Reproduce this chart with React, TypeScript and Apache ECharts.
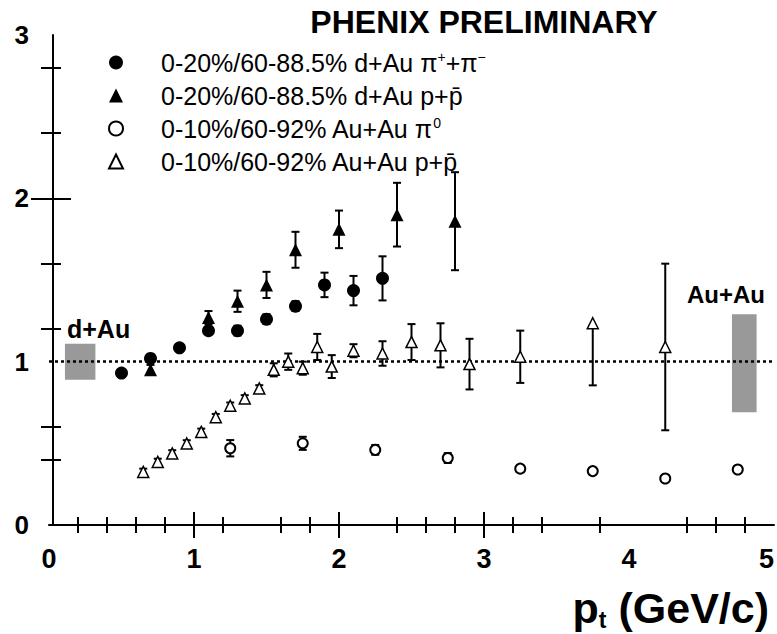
import React, { useEffect, useRef } from "react";
import * as echarts from "echarts";

const FONT = "'Liberation Sans', Arial, Helvetica, sans-serif";

// d+Au pi+ + pi- (filled circles)
const piX = [0.5, 0.7, 0.9, 1.1, 1.3, 1.5, 1.7, 1.9, 2.1, 2.3];
const piY = [0.93, 1.02, 1.085, 1.19, 1.19, 1.26, 1.34, 1.47, 1.435, 1.51];
const piErr = [0.015, 0.02, 0.02, 0.02, 0.03, 0.03, 0.03, 0.075, 0.09, 0.135];

// d+Au p + pbar (filled triangles)
const protX = [0.7, 1.1, 1.3, 1.5, 1.7, 2.0, 2.4, 2.8];
const protY = [0.95, 1.27, 1.37, 1.47, 1.685, 1.81, 1.9, 1.86];
const protErr = [0.03, 0.04, 0.065, 0.08, 0.11, 0.115, 0.195, 0.3];

// Au+Au pi0 (open circles)
const pi0X = [1.25, 1.75, 2.25, 2.75, 3.25, 3.75, 4.25, 4.75];
const pi0Y = [0.47, 0.5, 0.46, 0.41, 0.345, 0.33, 0.285, 0.34];
const pi0Err = [0.05, 0.04, 0.03, 0.03, 0.02, 0.02, 0.02, 0.02];

// Au+Au p + pbar (open triangles)
const auProtX = [0.65, 0.75, 0.85, 0.95, 1.05, 1.15, 1.25, 1.35, 1.45, 1.55, 1.65, 1.75, 1.85, 1.95, 2.1, 2.3, 2.5, 2.7, 2.9, 3.25, 3.75, 4.25];
const auProtY = [0.325, 0.386, 0.438, 0.499, 0.57, 0.66, 0.73, 0.775, 0.836, 0.95, 1.0, 0.96, 1.09, 0.97, 1.067, 1.05, 1.12, 1.1, 0.985, 1.03, 1.235, 1.09];
const auProtErrLo = [0.02, 0.02, 0.02, 0.02, 0.02, 0.02, 0.02, 0.02, 0.02, 0.04, 0.05, 0.04, 0.08, 0.07, 0.04, 0.075, 0.11, 0.135, 0.155, 0.16, 0.38, 0.51];
const auProtErrHi = [0.02, 0.02, 0.02, 0.02, 0.02, 0.02, 0.02, 0.02, 0.02, 0.04, 0.05, 0.04, 0.08, 0.07, 0.04, 0.075, 0.11, 0.135, 0.155, 0.16, 0.0, 0.51];

// systematic boxes [xFrom, xTo, yFrom, yTo]
const dAuBox = [0.11, 0.32, 0.89, 1.11];
const auAuBox = [4.71, 4.88, 0.69, 1.29];

const xMajorTicks = [1, 2, 3];
const xMinorTicks = [0.2, 0.4, 0.6, 0.8, 1.2, 1.6, 1.8, 2.4, 2.6, 2.8, 3.2, 3.4, 3.8, 4.4, 4.6, 4.8];
const xLabels = [0, 1, 2, 3, 4, 5];
const yMajorTicks = [2];
const yMinorTicks = [0.4, 0.6, 1.2, 1.6, 2.4, 2.8];
const yLabels = [0, 1, 2, 3];

const names = [
  "0-20%/60-88.5% d+Au pi+ + pi-",
  "0-20%/60-88.5% d+Au p+pbar",
  "0-10%/60-92% Au+Au pi0",
  "0-10%/60-92% Au+Au p+pbar",
];
const legendText: Record<string, string> = {
  [names[0]]: "0-20%/60-88.5% d+Au π{sup|+}+π{sup|−}",
  [names[1]]: "0-20%/60-88.5% d+Au p+p\u0304",
  [names[2]]: "0-10%/60-92% Au+Au π{sup|0}",
  [names[3]]: "0-10%/60-92% Au+Au p+p\u0304",
};

const zip = (xs: number[], ys: number[]) => xs.map((x, i) => [x, ys[i]]);
const errData = (xs: number[], ys: number[], lo: number[], hi: number[]) =>
  xs.map((x, i) => [x, ys[i], lo[i], hi[i]]);

const errSeries = (data: number[][]) => ({
  type: "custom",
  z: 3,
  silent: true,
  encode: { x: 0, y: 1 },
  data,
  renderItem: (params: any, api: any) => {
    const x = api.value(0);
    const y = api.value(1);
    const lo = api.value(2);
    const hi = api.value(3);
    const top = api.coord([x, y + hi]);
    const bot = api.coord([x, y - lo]);
    const st = { stroke: "#000", lineWidth: 2 };
    const children: any[] = [
      { type: "line", shape: { x1: top[0], y1: top[1], x2: bot[0], y2: bot[1] }, style: st },
    ];
    if (hi > 0) children.push({ type: "line", shape: { x1: top[0] - 4, y1: top[1], x2: top[0] + 4, y2: top[1] }, style: st });
    if (lo > 0) children.push({ type: "line", shape: { x1: bot[0] - 4, y1: bot[1], x2: bot[0] + 4, y2: bot[1] }, style: st });
    return { type: "group", children };
  },
});

const tickLabelStyle = { fontFamily: FONT, fontWeight: "bold" as const, fontSize: 27, color: "#000" };

export default function App() {
  const ref = useRef<HTMLDivElement>(null);
  useEffect(() => {
    if (!ref.current) return;
    const chart = echarts.init(ref.current, undefined, { renderer: "svg" });
    const baseX = { type: "value", min: 0, max: 5, splitLine: { show: false } };
    const baseY = { type: "value", min: 0, max: 3, splitLine: { show: false } };
    const tick = (len: number, vals: number[]) => ({
      show: true,
      inside: true,
      length: len,
      customValues: vals,
      lineStyle: { color: "#000", width: 2 },
    });
    chart.setOption({
      animation: false,
      backgroundColor: "#fff",
      grid: { left: 49, right: 3, top: 35, bottom: 109, containLabel: false },
      xAxis: [
        {
          ...baseX,
          position: "bottom",
          axisLine: { show: false },
          axisTick: tick(13, xMajorTicks),
          axisLabel: { ...tickLabelStyle, customValues: xLabels, margin: 20, alignMaxLabel: "right" },
        },
        { ...baseX, position: "bottom", axisLine: { show: false }, axisTick: tick(8, xMinorTicks), axisLabel: { show: false } },
        {
          ...baseX,
          position: "top",
          axisLine: { show: true, lineStyle: { color: "#000", width: 2 } },
          axisTick: tick(13, xMajorTicks),
          axisLabel: { show: false },
        },
        { ...baseX, position: "top", axisLine: { show: false }, axisTick: tick(8, xMinorTicks), axisLabel: { show: false } },
      ],
      yAxis: [
        {
          ...baseY,
          position: "left",
          axisLine: { show: false },
          axisTick: tick(22, yMajorTicks),
          axisLabel: { ...tickLabelStyle, fontSize: 26, customValues: yLabels, margin: 20 },
        },
        { ...baseY, position: "left", axisLine: { show: false }, axisTick: tick(12, yMinorTicks), axisLabel: { show: false } },
        {
          ...baseY,
          position: "right",
          offset: -4,
          axisLine: { show: true, lineStyle: { color: "#000", width: 2 } },
          axisTick: tick(22, yMajorTicks),
          axisLabel: { show: false },
        },
        { ...baseY, position: "right", offset: -4, axisLine: { show: false }, axisTick: tick(12, yMinorTicks), axisLabel: { show: false } },
      ],
      legend: {
        data: names,
        orient: "vertical",
        left: 108,
        top: 50,
        padding: 0,
        itemWidth: 14,
        itemHeight: 14,
        itemGap: 8,
        selectedMode: false,
        formatter: (n: string) => legendText[n],
        textStyle: {
          fontFamily: FONT,
          fontSize: 25,
          lineHeight: 25,
          color: "#000",
          padding: [0, 0, 0, 33],
          rich: { sup: { fontFamily: FONT, fontSize: 14, lineHeight: 14, verticalAlign: "top", color: "#000" } },
        },
      },
      series: [
        {
          type: "scatter",
          data: [],
          z: 1,
          silent: true,
          markArea: {
            silent: true,
            itemStyle: { color: "#999", opacity: 1 },
            data: [
              [{ coord: [dAuBox[0], dAuBox[2]] }, { coord: [dAuBox[1], dAuBox[3]] }],
              [{ coord: [auAuBox[0], auAuBox[2]] }, { coord: [auAuBox[1], auAuBox[3]] }],
            ],
          },
        },
        {
          type: "scatter",
          data: [],
          z: 2,
          silent: true,
          markLine: {
            silent: true,
            symbol: ["none", "none"],
            label: { show: false },
            lineStyle: { color: "#000", type: [3, 3], width: 2.5 },
            data: [{ yAxis: 1 }],
          },
        },
        errSeries(errData(piX, piY, piErr, piErr)),
        errSeries(errData(protX, protY, protErr, protErr)),
        errSeries(errData(pi0X, pi0Y, pi0Err, pi0Err)),
        errSeries(errData(auProtX, auProtY, auProtErrLo, auProtErrHi)),
        { name: names[0], type: "scatter", z: 5, symbol: "circle", symbolSize: 13, itemStyle: { color: "#000", opacity: 1 }, data: zip(piX, piY) },
        { name: names[1], type: "scatter", z: 5, symbol: "triangle", symbolSize: 13, itemStyle: { color: "#000", opacity: 1 }, data: zip(protX, protY) },
        {
          name: names[2],
          type: "scatter",
          z: 5,
          symbol: "circle",
          symbolSize: 10,
          itemStyle: { color: "#fff", borderColor: "#000", borderWidth: 2, opacity: 1 },
          data: zip(pi0X, pi0Y),
        },
        {
          name: names[3],
          type: "scatter",
          z: 5,
          symbol: "triangle",
          symbolSize: 11,
          itemStyle: { color: "#fff", borderColor: "#000", borderWidth: 1.5, opacity: 1 },
          data: zip(auProtX, auProtY),
        },
      ],
      graphic: [
        {
          type: "text",
          x: 484,
          y: 22,
          style: { text: "PHENIX PRELIMINARY", fontFamily: FONT, fontWeight: "bold", fontSize: 32, fill: "#000", align: "center", verticalAlign: "middle" },
        },
        {
          type: "text",
          x: 67,
          y: 329,
          style: { text: "d+Au", fontFamily: FONT, fontWeight: "bold", fontSize: 25, fill: "#000", align: "left", verticalAlign: "middle" },
        },
        {
          type: "text",
          x: 687,
          y: 294,
          style: { text: "Au+Au", fontFamily: FONT, fontWeight: "bold", fontSize: 24, fill: "#000", align: "left", verticalAlign: "middle" },
        },
        {
          type: "text",
          x: 769,
          y: 585,
          style: {
            text: "{p|p}{t|t}{r| (GeV/c)}",
            align: "right",
            verticalAlign: "top",
            fill: "#000",
            rich: {
              p: { fontFamily: FONT, fontWeight: "bold", fontSize: 43, lineHeight: 46, fill: "#000" },
              t: { fontFamily: FONT, fontWeight: "bold", fontSize: 23, lineHeight: 20, verticalAlign: "bottom", fill: "#000" },
              r: { fontFamily: FONT, fontWeight: "bold", fontSize: 43, lineHeight: 46, fill: "#000" },
            },
          },
        },
      ],
    });
    return () => chart.dispose();
  }, []);
  return <div ref={ref} style={{ position: "fixed", left: 0, top: 0, width: 777, height: 634, background: "#fff" }} />;
}
